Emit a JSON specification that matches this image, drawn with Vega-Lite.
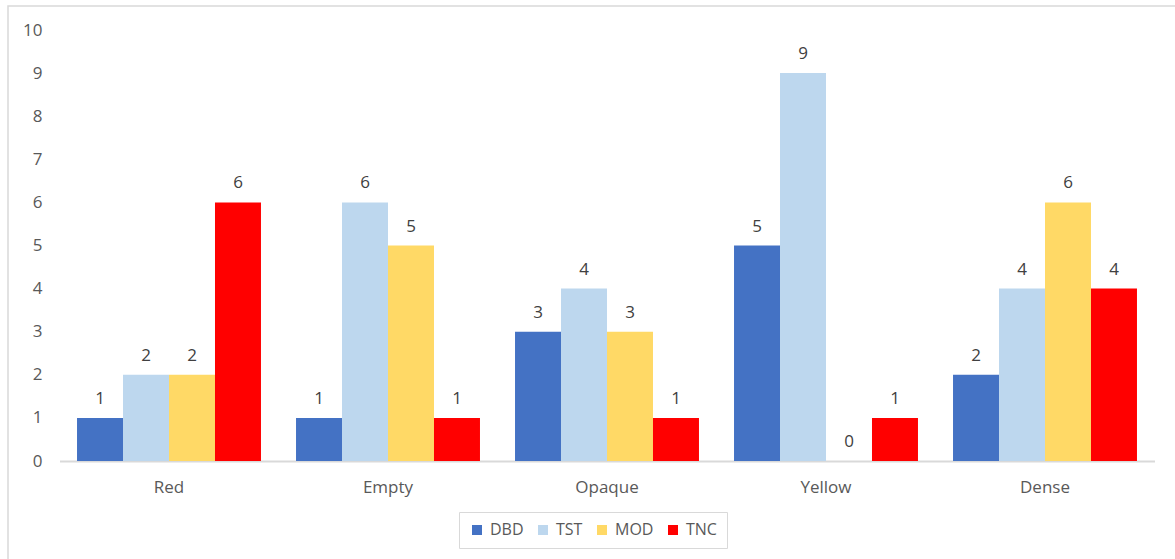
{
  "$schema": "https://vega.github.io/schema/vega-lite/v6.json",
  "autosize": {"type": "none"},
  "width": 1175,
  "height": 560,
  "padding": {"left": 8, "top": 6, "right": 0, "bottom": 0},
  "background": "#ffffff",
  "config": {
    "view": {"stroke": "#d9d9d9", "strokeWidth": 1.5},
    "font": "Open Sans"
  },
  "data": {
    "values": [
      {"category": "Red", "series": "DBD", "count": 1},
      {"category": "Red", "series": "TST", "count": 2},
      {"category": "Red", "series": "MOD", "count": 2},
      {"category": "Red", "series": "TNC", "count": 6},
      {"category": "Empty", "series": "DBD", "count": 1},
      {"category": "Empty", "series": "TST", "count": 6},
      {"category": "Empty", "series": "MOD", "count": 5},
      {"category": "Empty", "series": "TNC", "count": 1},
      {"category": "Opaque", "series": "DBD", "count": 3},
      {"category": "Opaque", "series": "TST", "count": 4},
      {"category": "Opaque", "series": "MOD", "count": 3},
      {"category": "Opaque", "series": "TNC", "count": 1},
      {"category": "Yellow", "series": "DBD", "count": 5},
      {"category": "Yellow", "series": "TST", "count": 9},
      {"category": "Yellow", "series": "MOD", "count": 0},
      {"category": "Yellow", "series": "TNC", "count": 1},
      {"category": "Dense", "series": "DBD", "count": 2},
      {"category": "Dense", "series": "TST", "count": 4},
      {"category": "Dense", "series": "MOD", "count": 6},
      {"category": "Dense", "series": "TNC", "count": 4}
    ]
  },
  "encoding": {
    "x": {
      "field": "category",
      "type": "nominal",
      "sort": ["Red", "Empty", "Opaque", "Yellow", "Dense"],
      "scale": {"range": [51.5, 1146.5], "paddingInner": 0.16, "paddingOuter": 0.08},
      "axis": {
        "title": null,
        "offset": -105,
        "domainColor": "#d9d9d9",
        "domainWidth": 2,
        "ticks": false,
        "labelAngle": 0,
        "labelFont": "Open Sans",
        "labelFontSize": 17,
        "labelColor": "#595959",
        "labelPadding": 18
      }
    },
    "xOffset": {
      "field": "series",
      "type": "nominal",
      "sort": ["DBD", "TST", "MOD", "TNC"],
      "scale": {"paddingInner": 0, "paddingOuter": 0}
    },
    "y": {
      "field": "count",
      "type": "quantitative",
      "scale": {"domain": [0, 10], "range": [455, 24], "nice": false},
      "axis": {
        "title": null,
        "offset": -36,
        "domain": false,
        "ticks": false,
        "grid": false,
        "values": [0, 1, 2, 3, 4, 5, 6, 7, 8, 9, 10],
        "labelFont": "Open Sans",
        "labelFontSize": 17,
        "labelColor": "#595959",
        "labelPadding": 2
      }
    }
  },
  "layer": [
    {
      "mark": {"type": "bar"},
      "encoding": {
        "color": {
          "field": "series",
          "type": "nominal",
          "sort": ["DBD", "TST", "MOD", "TNC"],
          "scale": {
            "domain": ["DBD", "TST", "MOD", "TNC"],
            "range": ["#4472c4", "#bdd7ee", "#ffd966", "#ff0000"]
          },
          "legend": {
            "title": null,
            "orient": "none",
            "direction": "horizontal",
            "legendX": 451,
            "legendY": 506,
            "padding": 10,
            "strokeColor": "#d9d9d9",
            "symbolType": "square",
            "symbolSize": 100,
            "symbolStrokeWidth": 0,
            "symbolOpacity": 1,
            "labelFont": "Open Sans",
            "labelFontSize": 16,
            "labelColor": "#595959",
            "labelOffset": 5,
            "columnPadding": 11
          }
        }
      }
    },
    {
      "mark": {
        "type": "text",
        "dy": -14,
        "baseline": "alphabetic",
        "font": "Open Sans",
        "fontSize": 17,
        "color": "#404040"
      },
      "encoding": {
        "text": {"field": "count", "type": "quantitative"}
      }
    }
  ]
}
